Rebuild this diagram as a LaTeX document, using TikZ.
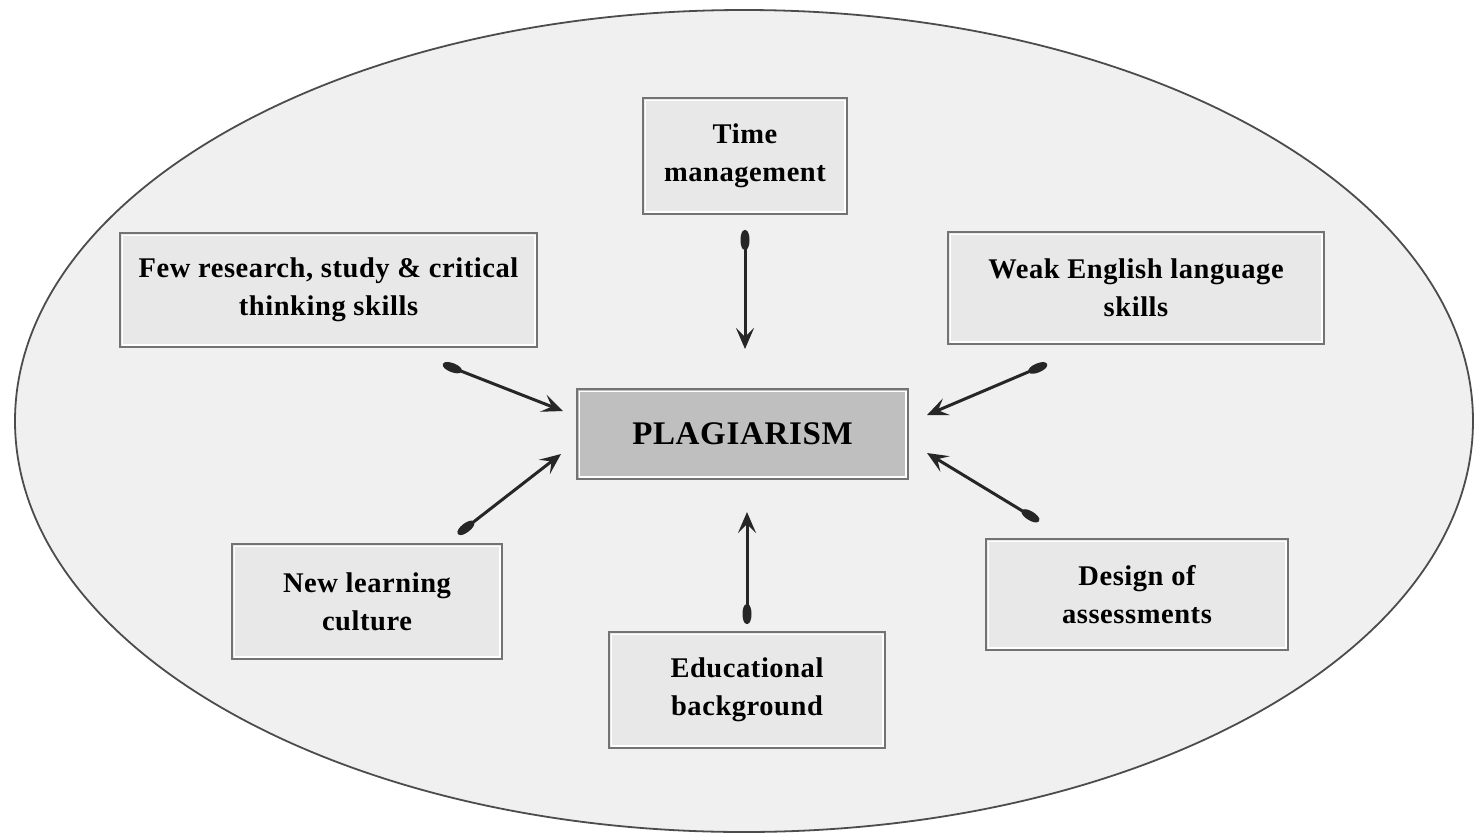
\documentclass[tikz,border=0pt]{standalone}
\usepackage{fontspec}
\setmainfont{Liberation Serif}
\usetikzlibrary{arrows.meta}
\begin{document}
\begin{tikzpicture}[x=1pt,y=-1pt,
  box/.style={draw=black!55, line width=2.2pt, fill=black!9, align=center,
    font=\fontsize{28.5}{38}\selectfont\bfseries\addfontfeatures{LetterSpace=2}, inner sep=0pt,
    path picture={\draw[white,line width=1.4pt]
      ([shift={(2.2pt,2.2pt)}]path picture bounding box.south west) rectangle
      ([shift={(-2.2pt,-2.2pt)}]path picture bounding box.north east);}},
  conn/.style={line width=3pt, black!85,
    {Ellipse[length=20pt,width=9pt]}-{Stealth[length=21pt,width=18pt,inset=9pt]}}]
\useasboundingbox (0,0) rectangle (1476,836);
\fill[white] (0,0) rectangle (1476,836);
\draw[black!70, line width=1.8pt, fill=black!6] (744,421) ellipse [x radius=729, y radius=411];

\node[box, minimum width=204, minimum height=116] (time) at (745,156) {Time\\management};
\node[box, minimum width=417, minimum height=114] (few) at (328.5,290) {Few research, study \& critical\\thinking skills};
\node[box, minimum width=376, minimum height=112] (weak) at (1136,288) {Weak English language\\skills};
\node[box, minimum width=331, minimum height=90, fill=black!25, font=\fontsize{33}{38}\selectfont\bfseries\addfontfeatures{LetterSpace=2}] (plag) at (742.5,434) {PLAGIARISM};
\node[box, minimum width=270, minimum height=115] (newl) at (367,601.5) {New learning\\culture};
\node[box, minimum width=276, minimum height=116] (edu) at (747,690) {Educational\\background};
\node[box, minimum width=302, minimum height=111] (des) at (1137,594.5) {Design of\\assessments};

\coordinate (t0) at (745,230);
\coordinate (t1) at (745,349);
\coordinate (f0) at (443,364);
\coordinate (f1) at (563,411);
\coordinate (w0) at (1047,364);
\coordinate (w1) at (927,415);
\coordinate (d0) at (1039,521);
\coordinate (d1) at (927,453);
\coordinate (e0) at (747,624);
\coordinate (e1) at (747,512);
\coordinate (n0) at (458,534);
\coordinate (n1) at (561,454);

\draw[conn] (t0) -- (t1);
\draw[conn] (f0) -- (f1);
\draw[conn] (w0) -- (w1);
\draw[conn] (d0) -- (d1);
\draw[conn] (e0) -- (e1);
\draw[conn] (n0) -- (n1);
\end{tikzpicture}
\end{document}
